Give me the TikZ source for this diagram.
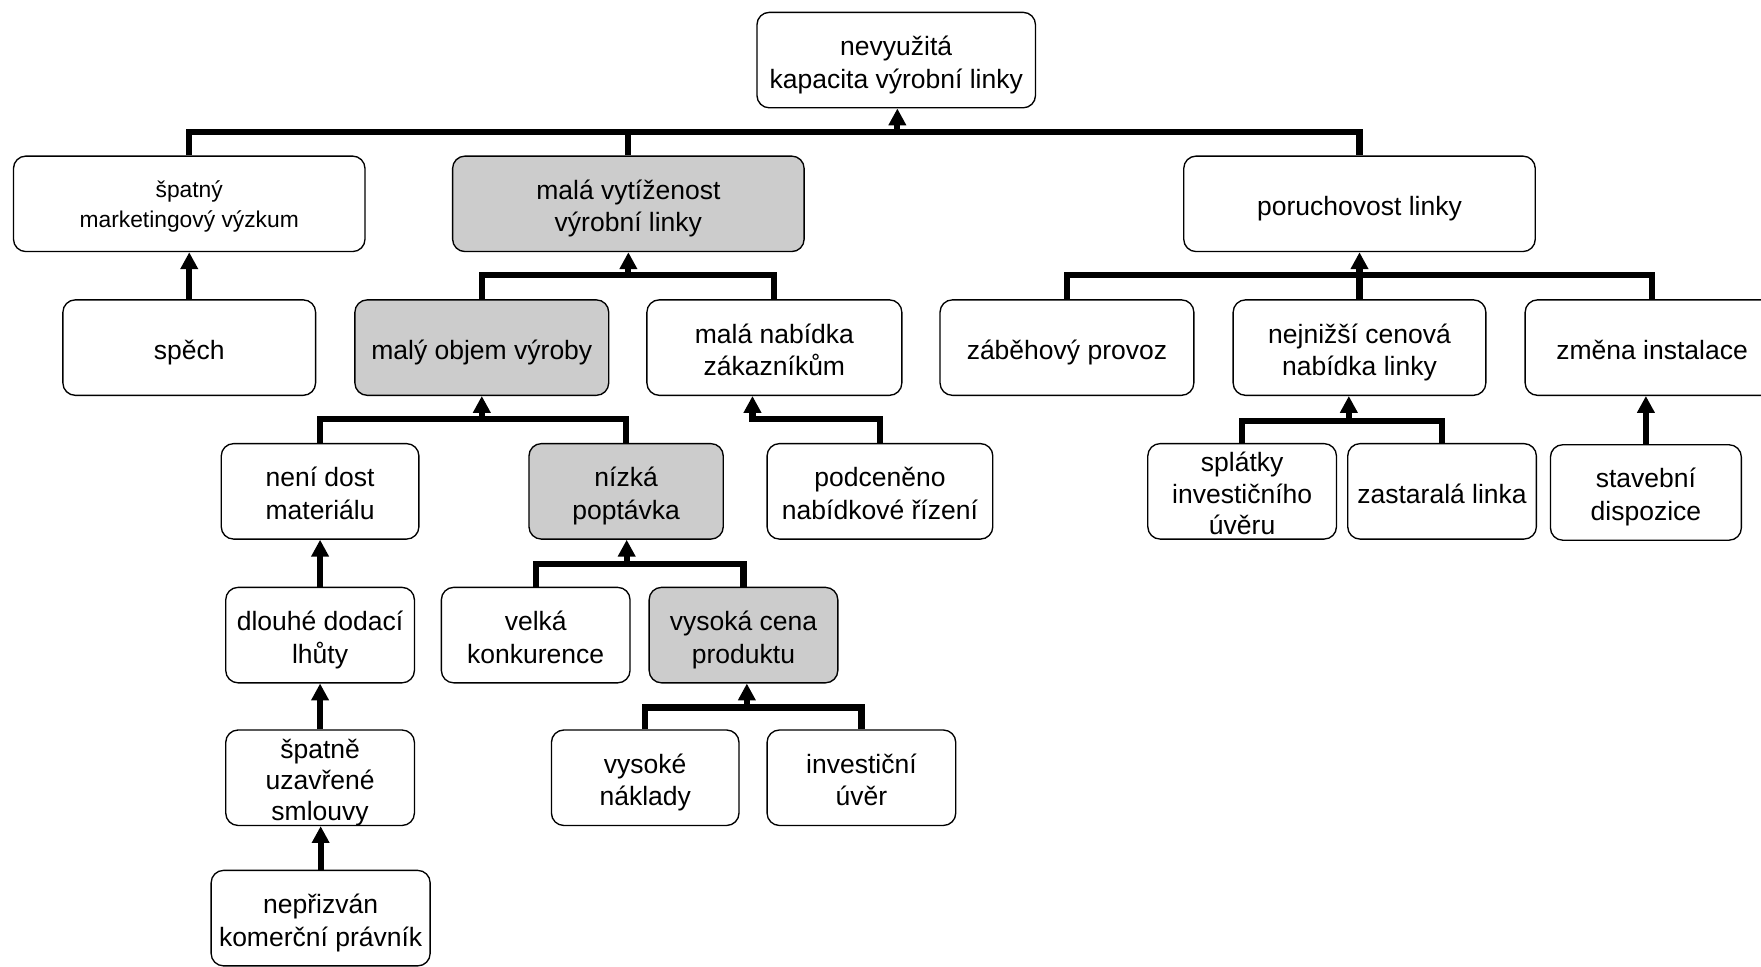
\documentclass[tikz,border=0pt]{standalone}
\usepackage{fontspec}
\setmainfont{Liberation Sans}
\usetikzlibrary{arrows.meta}
\definecolor{boxgray}{HTML}{CCCCCC}
\newcommand\tA{\rule{0pt}{26.5pt}}
\newcommand\tZ{\rule[-5.5pt]{0pt}{5.5pt}}
\newcommand\sA{\rule{0pt}{19.5pt}}
\newcommand\sZ{\rule[-4.9pt]{0pt}{4.9pt}}
\tikzset{
  box/.style={draw, line width=1.2pt, rounded corners=11pt, align=center, inner xsep=0pt, inner ysep=-5pt, fill=white,
    font=\fontsize{23.6}{29}\selectfont},
  smallbox/.style={font=\fontsize{20.3}{26.7}\selectfont},
  threeline/.style={font=\fontsize{23.6}{28}\selectfont},
  grey/.style={fill=boxgray},
  wh/.style 2 args={minimum width=#1pt, minimum height=#2pt},
  conn/.style={line width=5.5pt, line join=miter},
  arr/.style={line width=5.5pt, line join=miter, -{Triangle[width=15pt,length=15pt]}},
}
\begin{document}
\begin{tikzpicture}[x=1pt,y=-1pt]
\useasboundingbox (0,0) rectangle (1568,861);
\clip (0,0) rectangle (1568,861);
\fill[white] (0,0) rectangle (1568,861);
% nodes
\node[box, wh={248}{85}] (top) at (798,53.5) {\tA nevyužitá\\kapacita výrobní linky\tZ};
\node[box, smallbox, wh={313}{85}] (A) at (168.5,181.5) {\sA špatný\\marketingový výzkum\sZ};
\node[box, grey, wh={313}{85}] (B) at (559.5,181.5) {\tA malá vytíženost\\výrobní linky\tZ};
\node[box, wh={313}{85}] (C) at (1210.5,181.5) {\tA poruchovost linky\tZ};
\node[box, wh={225}{85}] (spech) at (168.5,309.5) {\tA spěch\tZ};
\node[box, grey, wh={226}{85}] (maly) at (429,309.5) {\tA malý objem výroby\tZ};
\node[box, wh={227}{85}] (nabidka) at (689.5,309.5) {\tA malá nabídka\\zákazníkům\tZ};
\node[box, wh={226}{85}] (zabeh) at (950,309.5) {\tA záběhový provoz\tZ};
\node[box, wh={225}{85}] (nejnizsi) at (1210.5,309.5) {\tA nejnižší cenová\\nabídka linky\tZ};
\node[box, wh={226}{85}] (zmena) at (1471,309.5) {\tA změna instalace\tZ};
\node[box, wh={176}{85}] (neni) at (285,437.5) {\tA není dost\\materiálu\tZ};
\node[box, grey, wh={173}{85}] (nizka) at (557.5,437.5) {\tA nízká\\poptávka\tZ};
\node[box, wh={201}{85}] (podceneno) at (783.5,437.5) {\tA podceněno\\nabídkové řízení\tZ};
\node[box, threeline, wh={168}{85}] (splatky) at (1106,437.5) {\tA splátky\\investičního\\úvěru\tZ};
\node[box, wh={168}{85}] (zastarala) at (1284,437.5) {\tA zastaralá linka\tZ};
\node[box, wh={170}{85}] (stavebni) at (1465.5,438.5) {\tA stavební\\dispozice\tZ};
\node[box, wh={168}{85}] (dlouhe) at (285,565.5) {\tA dlouhé dodací\\lhůty\tZ};
\node[box, wh={168}{85}] (velka) at (477,565.5) {\tA velká\\konkurence\tZ};
\node[box, grey, wh={168}{85}] (vysoka) at (662,565.5) {\tA vysoká cena\\produktu\tZ};
\node[box, threeline, wh={168}{85}] (spatne) at (285,692.5) {\tA špatně\\uzavřené\\smlouvy\tZ};
\node[box, wh={167}{85}] (vysoke) at (574.5,692.5) {\tA vysoké\\náklady\tZ};
\node[box, wh={168}{85}] (investicni) at (767,692.5) {\tA investiční\\úvěr\tZ};
\node[box, wh={195}{85}] (neprizvan) at (285.5,817.5) {\tA nepřizván\\komerční právník\tZ};
% bracket points
\coordinate (bT) at (799,117.5);
\coordinate (bB) at (559.5,245);
\coordinate (bC) at (1210.5,245);
\coordinate (bM) at (429,373);
\coordinate (bP) at (670,373);
\coordinate (bN) at (1201,375);
\coordinate (bZ) at (558,502);
\coordinate (bV) at (665,630);
% connectors
\draw[conn] (A.north) |- (bT) -| (C.north);
\draw[conn] (B.north) -- (B.north |- bT);
\draw[arr] (bT) -- (top.south -| bT);
\draw[arr] (spech.north) -- (A.south);
\draw[conn] (maly.north) |- (bB) -| (nabidka.north);
\draw[arr] (bB) -- (B.south);
\draw[conn] (zabeh.north) |- (bC) -| (zmena.north);
\draw[conn] (nejnizsi.north) -- (nejnizsi.north |- bC);
\draw[arr] (bC) -- (C.south);
\draw[conn] (neni.north) |- (bM) -| (nizka.north);
\draw[arr] (bM) -- (maly.south);
\draw[arr] (podceneno.north) |- (bP) -- (nabidka.south -| bP);
\draw[conn] (splatky.north) |- (bN) -| (zastarala.north);
\draw[arr] (bN) -- (nejnizsi.south -| bN);
\draw[arr] (stavebni.north) -- (zmena.south -| stavebni.north);
\draw[arr] (dlouhe.north) -- (neni.south -| dlouhe.north);
\draw[arr] (spatne.north) -- (dlouhe.south -| spatne.north);
\draw[arr] (neprizvan.north) -- (spatne.south -| neprizvan.north);
\draw[conn] (velka.north) |- (bZ) -| (vysoka.north);
\draw[arr] (bZ) -- (nizka.south -| bZ);
\draw[conn] (vysoke.north) |- (bV) -| (investicni.north);
\draw[arr] (bV) -- (vysoka.south -| bV);
\end{tikzpicture}
\end{document}
